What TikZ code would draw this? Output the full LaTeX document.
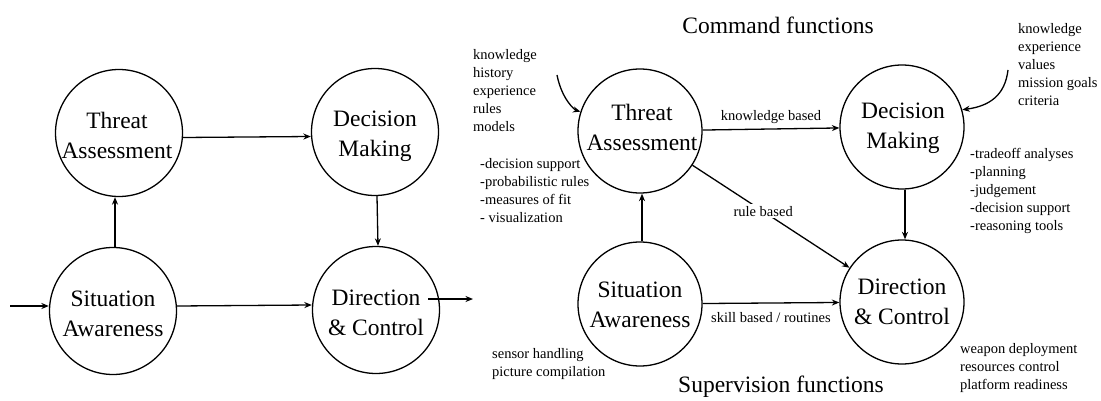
\documentclass[tikz,border=0pt]{standalone}
\usepackage{fontspec}
\setmainfont{Liberation Serif}
\newfontfamily\tnr{Liberation Serif}
\usetikzlibrary{arrows.meta}
\newcommand\tc[1]{\begin{tabular}{@{}c@{}}#1\end{tabular}}
\newcommand\tl[1]{\begin{tabular}{@{}l@{}}#1\end{tabular}}
\begin{document}
\begin{tikzpicture}[x=1pt,y=-1pt,
  circ/.style={circle, draw, line width=1.3pt, minimum size=124pt, inner sep=0pt},
  bigcirc/.style={circ, minimum size=127pt},
  ctext/.style={inner sep=0pt, font=\tnr\fontsize{23.5}{30}\selectfont},
  arr/.style={-{Stealth[length=7.5pt,width=6pt]}, line width=1.3pt},
  lst/.style={anchor=north west, inner sep=0pt, font=\tnr\fontsize{14.5}{18}\selectfont},
  lbl/.style={font=\tnr\fontsize{14.5}{18}\selectfont, inner sep=0pt},
  ttl/.style={font=\tnr\fontsize{23.5}{28}\selectfont, inner sep=0pt}]
\useasboundingbox (0,0) rectangle (1101,401);
% ---------- left diagram ----------
\node[bigcirc] (TA1) at (119,133) {};
\node[bigcirc] (DM1) at (375,132) {};
\node[bigcirc] (SA1) at (113,311) {};
\node[bigcirc] (DC1) at (376,310) {};
\node[ctext] (tTA1) at (117,138) {\tc{Threat\\Assessment}};
\node[ctext] (tDM1) at (375,135.5) {\tc{Decision\\Making}};
\node[ctext] (tSA1) at (113,315) {\tc{Situation\\Awareness}};
\node[ctext] (tDC1) at (376,314) {\tc{Direction\\\& Control}};
\coordinate (in1) at (10,306);
\coordinate (out1) at (473,299);
\draw[arr] ([yshift=-4.5pt]TA1.east) -- ([yshift=-4.5pt]DM1.west);
\draw[arr] ([xshift=2pt]DM1.south) -- ([xshift=2pt]DC1.north);
\draw[arr] ([xshift=2pt]SA1.north) -- ([xshift=-4pt]TA1.south);
\draw[arr] (in1) -- (in1 -| SA1.west);
\draw[arr] ([yshift=5pt]SA1.east) -- ([yshift=5pt]DC1.west);
\draw[arr] ([shift={(-12pt,11pt)}]DC1.east) -- (out1);
% ---------- right diagram ----------
\node[circ] (TA) at (640,131) {};
\node[circ] (DM) at (902,127) {};
\node[circ] (SA) at (640,304) {};
\node[circ] (DC) at (902,302) {};
\node[ctext] (tTA) at (642,130) {\tc{Threat\\Assessment}};
\node[ctext] (tDM) at (903,128) {\tc{Decision\\Making}};
\node[ctext] (tSA) at (640,306) {\tc{Situation\\Awareness}};
\node[ctext] (tDC) at (902,303) {\tc{Direction\\\& Control}};
\draw[arr] (TA) -- node[lbl, above=5pt] {knowledge based} (DM);
\draw[arr] ([xshift=3pt]DM.south) -- ([xshift=3pt]DC.north);
\draw[arr] ([xshift=2pt]SA.north) -- ([xshift=2pt]TA.south);
\draw[arr] (TA) -- node[lbl, pos=0.45, fill=white, inner sep=2pt] (rb) {rule based} (DC);
\draw[arr] (SA) -- node[lbl, below=9pt] {skill based / routines} (DC);
\coordinate (kin) at (557,75);
\coordinate (vin) at (1008,70);
\draw[arr] (kin) .. controls (562,100) and (575,110) .. (TA.162);
\draw[arr] (vin) .. controls (1005,95) and (990,106) .. (DM.16);
\node[ttl] (cf) at (778,25) {Command functions};
\node[ttl] (sf) at (781,387) {Supervision functions};
\node[lst] (l1) at (473,46.5) {\tl{knowledge\\history\\experience\\rules\\models}};
\node[lst] (l2) at (480,155.5) {\tl{-decision support\\-probabilistic rules\\-measures of fit\\- visualization}};
\node[lst] (l3) at (492,345.5) {\tl{sensor handling\\picture compilation}};
\node[lst] (l4) at (1018,20.5) {\tl{knowledge\\experience\\values\\mission goals\\criteria}};
\node[lst] (l5) at (970,145.5) {\tl{-tradeoff analyses\\-planning\\-judgement\\-decision support\\-reasoning tools}};
\node[lst] (l6) at (960,340.5) {\tl{weapon deployment\\resources control\\platform readiness}};
\end{tikzpicture}
\end{document}
